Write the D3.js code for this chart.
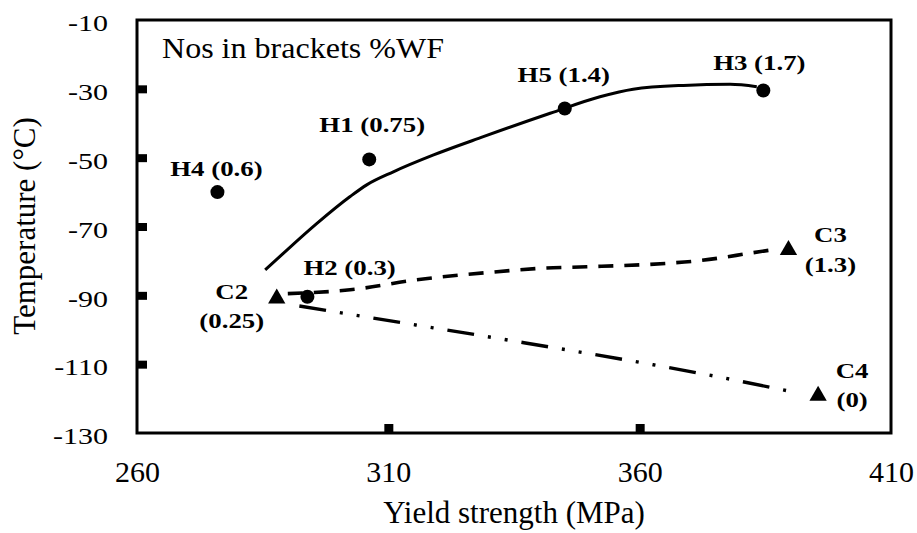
<!DOCTYPE html>
<html>
<head>
<meta charset="utf-8">
<script src="https://cdn.jsdelivr.net/npm/d3@7/dist/d3.min.js"></script>
<style>
  html, body { margin: 0; padding: 0; background: #fff; }
  svg { display: block; font-family: "Liberation Serif", "Times New Roman", serif; }
</style>
</head>
<body>
<svg id="chart" width="917" height="533"></svg>
<script>
// data
const X_TICKS = [260, 310, 360, 410];
const Y_TICKS = [-10, -30, -50, -70, -90, -110, -130];

const H_NAMES = ["H4 (0.6)", "H1 (0.75)", "H5 (1.4)", "H3 (1.7)", "H2 (0.3)"];
const H_YIELD = [276, 306.2, 345.1, 384.6, 293.9];
const H_TEMP  = [-60, -50.5, -35.7, -30.5, -90.4];

const C_NAMES = ["C2", "C3", "C4"];
const C_WF    = ["(0.25)", "(1.3)", "(0)"];
const C_YIELD = [287.8, 389.6, 395.5];
const C_TEMP  = [-90.9, -76.8, -119.2];

// trend lines
const TREND_H_X = [285.5, 289.1, 295.8, 302.4, 305.7, 311, 319, 328.9, 342.2, 352.1, 358.7, 368.7, 378, 383.3];
const TREND_H_Y = [-82.6, -77.8, -69.1, -61.3, -57.9, -54.1, -49.2, -43.9, -37.1, -32.3, -30.1, -29, -28.7, -29.4];

const TREND_C3_X = [290, 302.4, 315.6, 329.6, 340.8, 349.5, 365.4, 372, 382.6, 387.6];
const TREND_C3_Y = [-89.5, -88.4, -85.5, -83.4, -82.1, -81.7, -80.7, -79.9, -77.6, -76.5];

const TREND_C4_X = [292.3, 312, 332.6, 375.3, 389.6];
const TREND_C4_Y = [-93.1, -97.8, -102.7, -113.6, -117.8];

// label placement, pixels from the marker
const H_LABEL_POS = [
  { dx: -1, dy: -16, anchor: "middle" },
  { dx: 3,  dy: -27, anchor: "middle" },
  { dx: -1, dy: -26, anchor: "middle" },
  { dx: -4, dy: -21, anchor: "middle" },
  { dx: -4, dy: -22, anchor: "start" },
];
const C_LABEL_POS = [
  { dx: -45, dy1: 1,   dy2: 30 },
  { dx: 42,  dy1: -8,  dy2: 22 },
  { dx: 34,  dy1: -18, dy2: 11 },
];

const M = { left: 137, top: 20, right: 891, bottom: 433 };
const svg = d3.select("#chart");

const x = d3.scaleLinear().domain([260, 410]).range([M.left, M.right]);
const y = d3.scaleLinear().domain([-130, -10]).range([M.bottom, M.top]);

// y axis: inward square ticks + labels
const yAx = svg.append("g")
  .attr("transform", `translate(${M.left},0)`)
  .call(d3.axisLeft(y).tickValues(Y_TICKS).tickSizeInner(-10).tickSizeOuter(0).tickPadding(0).tickFormat(d3.format("d")))
  .call(ax => ax.select(".domain").remove());
yAx.selectAll(".tick line")
  .attr("stroke", "#000").attr("stroke-width", 8)
  .attr("display", d => (d === -10 || d === -130) ? "none" : null);
yAx.selectAll(".tick text")
  .attr("x", 0).attr("dy", null).attr("y", 10.8)
  .attr("transform", "translate(-29,0) scale(1.25,1)")
  .attr("text-anchor", "end")
  .attr("font-size", 24).attr("font-family", "Liberation Serif").attr("fill", "#000")
  .text(d => String(d).replace("\u2212", "-"));

// x axis
const xAx = svg.append("g")
  .attr("transform", `translate(0,${M.bottom})`)
  .call(d3.axisBottom(x).tickValues(X_TICKS).tickSizeInner(-9).tickSizeOuter(0).tickPadding(0).tickFormat(d3.format("d")))
  .call(ax => ax.select(".domain").remove());
xAx.selectAll(".tick line")
  .attr("stroke", "#000").attr("stroke-width", 9)
  .attr("display", d => (d === 260 || d === 410) ? "none" : null);
xAx.selectAll(".tick text")
  .attr("y", 49).attr("dy", null)
  .attr("font-size", 30).attr("font-family", "Liberation Serif").attr("fill", "#000");

// frame
svg.append("rect")
  .attr("x", M.left).attr("y", M.top)
  .attr("width", M.right - M.left).attr("height", M.bottom - M.top)
  .attr("fill", "none").attr("stroke", "#000").attr("stroke-width", 3);

// axis titles
svg.append("text")
  .attr("x", (M.left + M.right) / 2).attr("y", 523)
  .attr("text-anchor", "middle").attr("font-size", 31)
  .text("Yield strength (MPa)");
svg.append("text")
  .attr("transform", "translate(35,226) rotate(-90)")
  .attr("text-anchor", "middle").attr("font-size", 31)
  .text("Temperature (°C)");

svg.append("text")
  .attr("x", 162).attr("y", 58)
  .attr("font-size", 30)
  .attr("textLength", 282).attr("lengthAdjust", "spacingAndGlyphs")
  .text("Nos in brackets %WF");

// trend lines
const line = d3.line().x(d => x(d[0])).y(d => y(d[1])).curve(d3.curveMonotoneX);

svg.append("path")
  .datum(d3.zip(TREND_H_X, TREND_H_Y))
  .attr("d", line).attr("fill", "none")
  .attr("stroke", "#000").attr("stroke-width", 3);

svg.append("path")
  .datum(d3.zip(TREND_C3_X, TREND_C3_Y))
  .attr("d", line).attr("fill", "none")
  .attr("stroke", "#000").attr("stroke-width", 3.6)
  .attr("stroke-dasharray", "15,11");

svg.append("path")
  .datum(d3.zip(TREND_C4_X, TREND_C4_Y))
  .attr("d", line).attr("fill", "none")
  .attr("stroke", "#000").attr("stroke-width", 3.4)
  .attr("stroke-dasharray", "27,14,3,14,3,14");

// markers
svg.selectAll(".hdot")
  .data(d3.range(H_NAMES.length))
  .join("circle")
    .attr("class", "hdot")
    .attr("cx", i => x(H_YIELD[i])).attr("cy", i => y(H_TEMP[i]))
    .attr("r", 7).attr("fill", "#000");

const tri = d3.symbol().type(d3.symbolTriangle).size(130);
svg.selectAll(".ctri")
  .data(d3.range(C_NAMES.length))
  .join("path")
    .attr("class", "ctri")
    .attr("d", tri)
    .attr("transform", i => `translate(${x(C_YIELD[i])},${y(C_TEMP[i])})`)
    .attr("fill", "#000");

// labels
const SX = 1.22;
svg.selectAll(".hlab")
  .data(d3.range(H_NAMES.length))
  .join("text")
    .attr("class", "hlab")
    .attr("transform", i => `translate(${x(H_YIELD[i]) + H_LABEL_POS[i].dx},${y(H_TEMP[i]) + H_LABEL_POS[i].dy}) scale(${SX},1)`)
    .attr("text-anchor", i => H_LABEL_POS[i].anchor)
    .attr("font-size", 22).attr("font-weight", "bold")
    .text(i => H_NAMES[i]);

C_NAMES.forEach((name, i) => {
  const cx = x(C_YIELD[i]) + C_LABEL_POS[i].dx;
  const cy = y(C_TEMP[i]);
  svg.append("text")
    .attr("transform", `translate(${cx},${cy + C_LABEL_POS[i].dy1}) scale(${SX},1)`)
    .attr("text-anchor", "middle").attr("font-size", 22).attr("font-weight", "bold")
    .text(name);
  svg.append("text")
    .attr("transform", `translate(${cx},${cy + C_LABEL_POS[i].dy2}) scale(${SX},1)`)
    .attr("text-anchor", "middle").attr("font-size", 22).attr("font-weight", "bold")
    .text(C_WF[i]);
});
</script>
</body>
</html>
